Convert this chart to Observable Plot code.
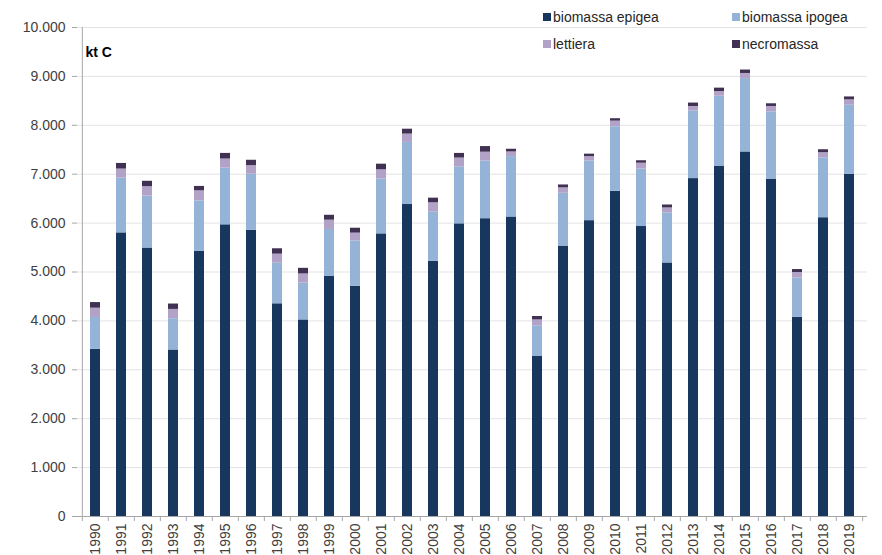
<!DOCTYPE html>
<html>
<head>
<meta charset="utf-8">
<script src="https://cdn.jsdelivr.net/npm/d3@7"></script>
<script src="https://cdn.jsdelivr.net/npm/@observablehq/plot@0.6"></script>
<style>
  body { margin: 0; background: #fff; font-family: "Liberation Sans", Arial, sans-serif; }
  #wrap { position: relative; width: 882px; height: 555px; }
  .legend { position: absolute; font-size: 14px; color: #262626; display: flex; align-items: center; white-space: nowrap; }
  .legend span.sw { display: inline-block; width: 8px; height: 8px; margin-right: 2px; }
</style>
</head>
<body>
<div id="wrap"></div>
<script>
const years = ["1990","1991","1992","1993","1994","1995","1996","1997","1998","1999","2000","2001","2002","2003","2004","2005","2006","2007","2008","2009","2010","2011","2012","2013","2014","2015","2016","2017","2018","2019"];
const epigea = [3420,5800,5490,3405,5420,5965,5855,4350,4020,4915,4710,5780,6380,5220,5985,6090,6125,3280,5530,6050,6650,5930,5185,6910,7165,7455,6900,4075,6110,7000];
const ipogea = [650,1120,1065,640,1035,1160,1145,830,755,955,925,1120,1270,1010,1165,1180,1235,620,1080,1220,1320,1175,1025,1380,1430,1500,1375,800,1225,1410];
const lettiera = [190,185,190,190,205,185,175,185,185,190,160,190,170,185,180,180,95,120,110,90,115,120,100,95,95,105,110,115,105,110];
const necromassa = [115,115,110,110,90,115,110,110,115,100,100,115,100,95,95,115,55,70,60,50,50,50,60,70,70,70,55,60,60,60];
const seriesNames = ["biomassa epigea","biomassa ipogea","lettiera","necromassa"];
const seriesColors = ["#17375e","#95b3d7","#b3a2c7","#403152"];
const yTicks = [0,1000,2000,3000,4000,5000,6000,7000,8000,9000,10000];
const unitLabel = "kt C";

const seriesValues = [epigea, ipogea, lettiera, necromassa];
const rows = [];
years.forEach((yr, i) => seriesNames.forEach((s, k) => rows.push({year: yr, series: s, value: seriesValues[k][i]})));

const loc = d3.formatLocale({decimal: ",", thousands: ".", grouping: [3], currency: ["€", ""]});
const fmt = loc.format(",");

const W = 882, H = 555, mL = 77, mR = 15, mT = 27, mB = 39;
const step = (W - mL - mR) / years.length;
const axisGray = "#a6a6a6";

const chart = Plot.plot({
  width: W, height: H,
  marginLeft: mL, marginRight: mR, marginTop: mT, marginBottom: mB,
  style: {fontFamily: "Liberation Sans, Arial, sans-serif", fontSize: "14px", color: "#404040", background: "#fff"},
  x: {domain: years, paddingInner: 0.6, paddingOuter: 0.3, label: null},
  y: {domain: [0, 10000], ticks: yTicks, label: null},
  color: {domain: seriesNames, range: seriesColors},
  marks: [
    Plot.gridY(yTicks, {stroke: "#e3e3e3", strokeOpacity: 1}),
    Plot.barY(rows, Plot.stackY({x: "year", y: "value", fill: "series", order: seriesNames})),
    Plot.ruleY([0], {stroke: axisGray}),
    Plot.ruleX([years[0]], {y1: 0, y2: 10000, dx: -step / 2, stroke: axisGray}),
    Plot.axisY(yTicks, {tickSize: 5, tickPadding: 7, tickFormat: fmt, stroke: axisGray, fill: "#404040", label: null}),
    Plot.axisX({tickSize: 0, tickPadding: 7, tickRotate: -90, fill: "#404040", label: null}),
    Plot.axisX(years, {tickSize: 5, tickFormat: () => "", dx: -step / 2, stroke: axisGray, label: null}),
    Plot.axisX([years[years.length - 1]], {tickSize: 5, tickFormat: () => "", dx: step / 2, stroke: axisGray, label: null}),
    Plot.text([unitLabel], {frameAnchor: "top-left", dx: 8, dy: 20, text: d => d, fontWeight: "bold", fontSize: 14, fill: "#000"})
  ]
});

const wrap = document.getElementById("wrap");
wrap.appendChild(chart);

const legendPos = [[543, 9], [732, 9], [543, 36], [732, 36]];
seriesNames.forEach((s, k) => {
  const d = document.createElement("div");
  d.className = "legend";
  d.style.left = legendPos[k][0] + "px";
  d.style.top = legendPos[k][1] + "px";
  d.innerHTML = `<span class="sw" style="background:${seriesColors[k]}"></span>${s}`;
  wrap.appendChild(d);
});
</script>
</body>
</html>
